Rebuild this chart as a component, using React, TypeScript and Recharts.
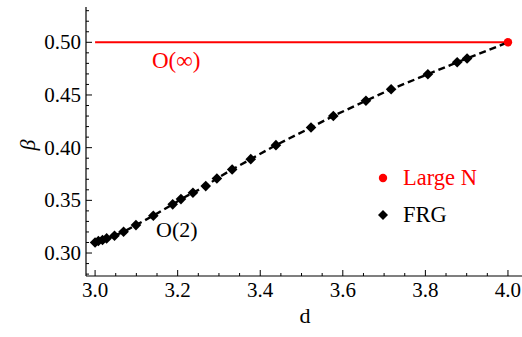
import { LineChart, Line, XAxis, YAxis, Scatter } from 'recharts'

const frgD = [3.0, 3.008, 3.018, 3.028, 3.047, 3.069, 3.099, 3.141, 3.188, 3.208, 3.237, 3.268, 3.295, 3.332, 3.377, 3.438, 3.523, 3.577, 3.656, 3.717, 3.806, 3.877, 3.901, 4.0]
const frgBeta = [0.31, 0.3114, 0.3123, 0.3139, 0.3164, 0.3202, 0.3265, 0.3354, 0.3462, 0.3512, 0.3572, 0.3635, 0.3708, 0.3793, 0.3891, 0.4024, 0.4191, 0.4301, 0.4445, 0.4555, 0.4697, 0.481, 0.4846, 0.5]
const largeND = [3.0, 4.0]
const largeNBeta = [0.5, 0.5]

const xTicks = [3.0, 3.05, 3.1, 3.15, 3.2, 3.25, 3.3, 3.35, 3.4, 3.45, 3.5, 3.55, 3.6, 3.65, 3.7, 3.75, 3.8, 3.85, 3.9, 3.95, 4.0]
const yTicks = [0.28, 0.29, 0.3, 0.31, 0.32, 0.33, 0.34, 0.35, 0.36, 0.37, 0.38, 0.39, 0.4, 0.41, 0.42, 0.43, 0.44, 0.45, 0.46, 0.47, 0.48, 0.49, 0.5, 0.51, 0.52, 0.53]

const frg = frgD.map((d, i) => ({ d, b: frgBeta[i] }))
const largeN = largeND.map((d, i) => ({ d, b: largeNBeta[i] }))
const largeNDot = [largeN[largeN.length - 1]]

const FONT = '"Liberation Serif", "Times New Roman", serif'
const isMajor = (v: number, per: number) => Math.abs(v * per - Math.round(v * per)) < 1e-6

function XTick({ x, y, payload }: any) {
  const major = isMajor(payload.value, 5)
  return (
    <g>
      <line x1={x} x2={x} y1={y} y2={y - (major ? 6 : 3)} stroke="#000" strokeWidth={1} />
      {major && <text x={x} y={y + 21} textAnchor="middle" fontFamily={FONT} fontSize={21} fill="#000">{payload.value.toFixed(1)}</text>}
    </g>
  )
}

function YTick({ x, y, payload }: any) {
  const major = isMajor(payload.value, 20)
  return (
    <g>
      <line x1={x} x2={x + (major ? 6 : 3)} y1={y} y2={y} stroke="#000" strokeWidth={1} />
      {major && <text x={x - 5} y={y + 7} textAnchor="end" fontFamily={FONT} fontSize={21} fill="#000">{payload.value.toFixed(2)}</text>}
    </g>
  )
}

function Diamond({ cx, cy, index }: any) {
  if (index === frg.length - 1) return <g key={index} />
  return <polygon key={index} points={`${cx},${cy - 5.3} ${cx + 5.3},${cy} ${cx},${cy + 5.3} ${cx - 5.3},${cy}`} fill="#000" />
}

export default function App() {
  return (
    <div style={{ position: 'absolute', left: 0, top: 0, width: 522, height: 337, background: '#fff' }}>
      <LineChart width={522} height={337} margin={{ top: 7, right: 0, bottom: 0, left: 0 }}>
        <XAxis xAxisId="top" orientation="top" type="number" dataKey="d" domain={[2.978, 4.034]} height={0} tick={false} tickLine={false} axisLine={{ stroke: '#000', strokeWidth: 1.2 }} />
        <XAxis type="number" dataKey="d" domain={[2.978, 4.034]} ticks={xTicks} interval={0} height={61} tickSize={0} tickMargin={0} tickLine={false} tick={<XTick />} axisLine={{ stroke: '#000', strokeWidth: 1.2 }} allowDataOverflow />
        <YAxis type="number" dataKey="b" domain={[0.2782, 0.5335]} ticks={yTicks} interval={0} width={86} tickSize={0} tickMargin={0} tickLine={false} tick={<YTick />} axisLine={{ stroke: '#000', strokeWidth: 1.2 }} allowDataOverflow />
        <Line data={largeN} dataKey="b" stroke="#ff0000" strokeWidth={2} dot={false} isAnimationActive={false} />
        <Line data={frg} dataKey="b" stroke="#000" strokeWidth={2.4} strokeDasharray="7 4" dot={<Diamond />} isAnimationActive={false} />
        <Scatter data={largeNDot} dataKey="b" fill="#ff0000" shape={(p: any) => <circle cx={p.cx} cy={p.cy} r={4.2} fill="#ff0000" />} isAnimationActive={false} />
        <text x={152} y={68} fontFamily={FONT} fontSize={23} fill="#ff0000">O(∞)</text>
        <text x={156} y={237} fontFamily={FONT} fontSize={22} fill="#000">O(2)</text>
        <circle cx={383} cy={178} r={4.2} fill="#ff0000" />
        <text x={403} y={185} fontFamily={FONT} fontSize={22.5} fill="#ff0000">Large N</text>
        <polygon points="383,210 388,215 383,220 378,215" fill="#000" />
        <text x={403} y={222} fontFamily={FONT} fontSize={22.5} fill="#000">FRG</text>
        <text x={27.5} y={145} fontFamily={FONT} fontSize={22} fontStyle="italic" textAnchor="middle" dominantBaseline="central" transform="rotate(-90, 27.5, 145)" fill="#000">β</text>
        <text x={305} y={323} fontFamily={FONT} fontSize={22} textAnchor="middle" fill="#000">d</text>
      </LineChart>
    </div>
  )
}
